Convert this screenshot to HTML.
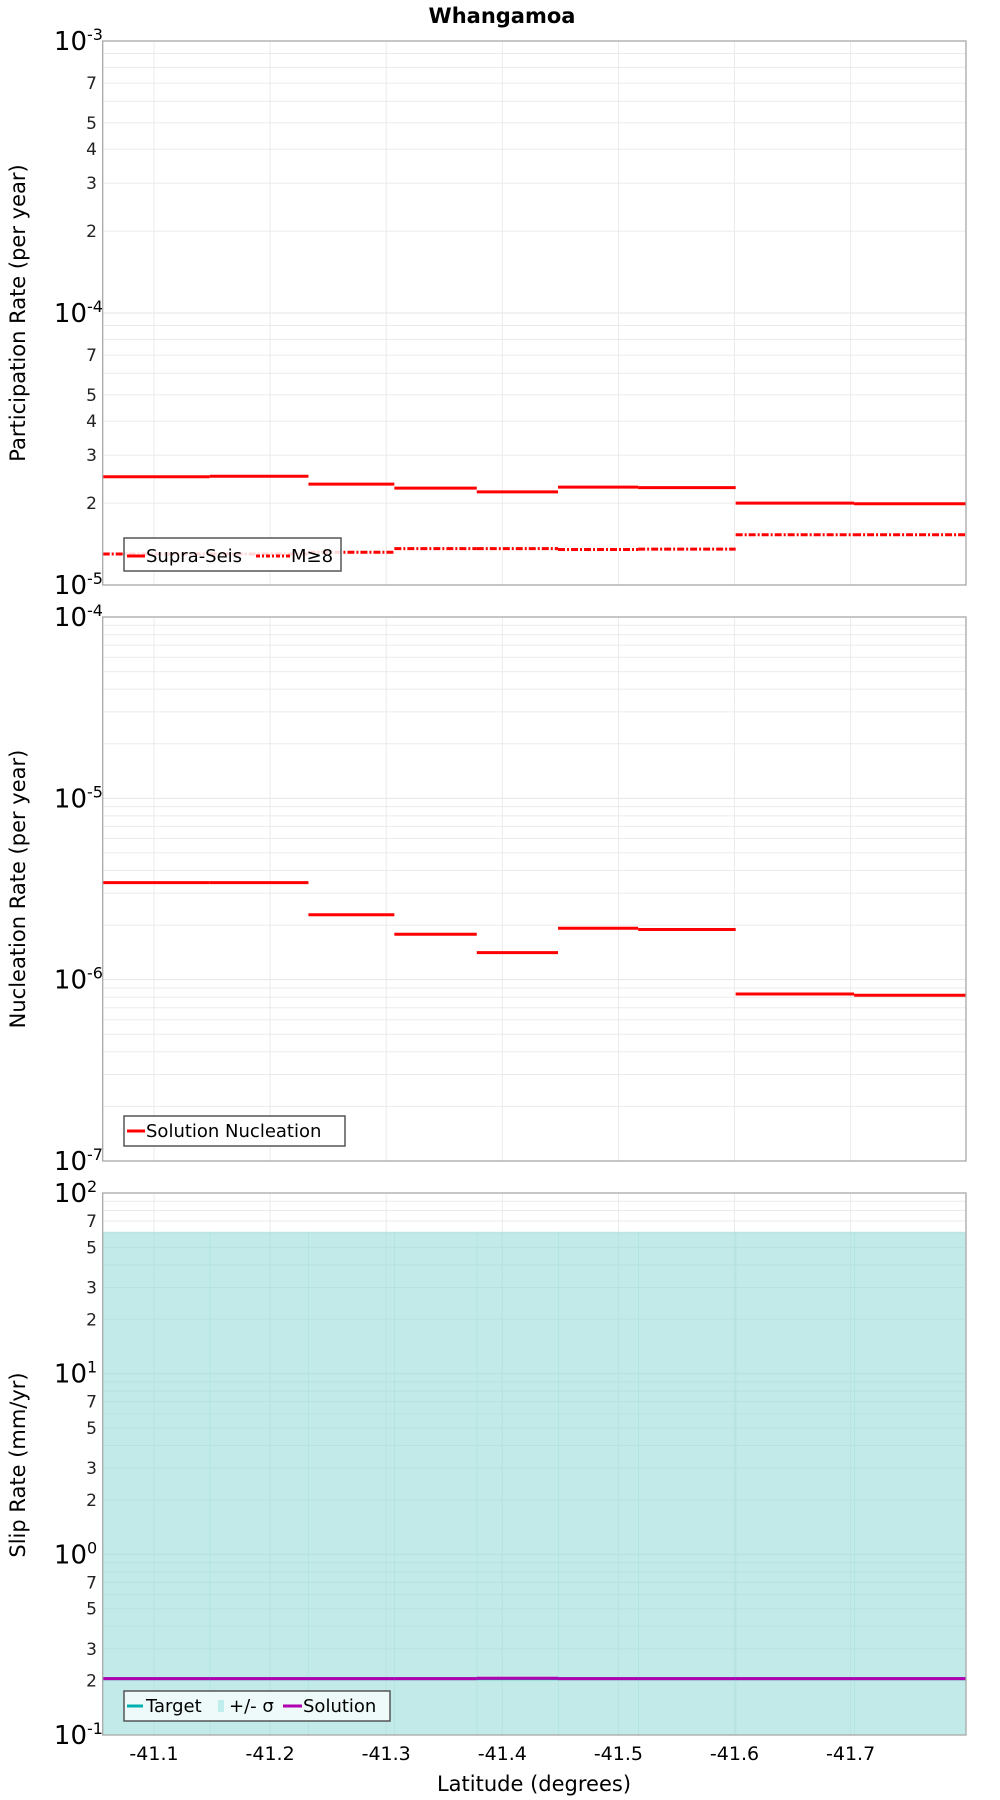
<!DOCTYPE html>
<html><head><meta charset="utf-8"><style>
body{margin:0;background:#fff}
svg{display:block;font-family:"DejaVu Sans","Liberation Sans",sans-serif}
</style></head><body>
<svg id="c" width="1000" height="1800" viewBox="0 0 1000 1800" xmlns="http://www.w3.org/2000/svg">
<text x="502" y="23" text-anchor="middle" font-size="21" font-weight="bold">Whangamoa</text>
<g id="g"></g>
</svg>
<script>
const bounds=[-41.0558,-41.148,-41.233,-41.307,-41.378,-41.448,-41.517,-41.601,-41.703,-41.7994];
const xTicks=[-41.1,-41.2,-41.3,-41.4,-41.5,-41.6,-41.7];
const supraSeis=[2.5e-5,2.51e-5,2.35e-5,2.27e-5,2.2e-5,2.29e-5,2.28e-5,2.0e-5,1.99e-5];
const m8=[1.30e-5,1.30e-5,1.32e-5,1.36e-5,1.36e-5,1.35e-5,1.355e-5,1.53e-5,1.53e-5];
const nucleation=[3.43e-6,3.43e-6,2.28e-6,1.78e-6,1.41e-6,1.92e-6,1.89e-6,8.34e-7,8.2e-7];
const slipSolution=[0.205,0.205,0.205,0.205,0.206,0.205,0.205,0.205,0.205];
const slipTarget=[0.205,0.205,0.205,0.205,0.205,0.205,0.205,0.205,0.205];
const slipUpper=[61,61,61,61,61,61,61,61,61];
const slipLower=[0.05,0.05,0.05,0.05,0.05,0.05,0.05,0.05,0.05];

const NS='http://www.w3.org/2000/svg';
const G=document.getElementById('g');
const L=102.7,R=966;
function X(lat){return L+(bounds[0]-lat)/(bounds[0]-bounds[bounds.length-1])*(R-L);}
function mk(tag,attrs,parent){const e=document.createElementNS(NS,tag);for(const k in attrs)e.setAttribute(k,attrs[k]);(parent||G).appendChild(e);return e;}
function panel(top,bot,dmin,dmax,minorLabels,name){
  const Y=v=>bot-(Math.log10(v)-dmin)/(dmax-dmin)*(bot-top);
  const g=mk('g',{});
  
  
  for(let d=dmin;d<dmax;d++){for(let m=2;m<=9;m++){const y=Y(m*Math.pow(10,d));
    const ln=mk('line',{x1:L,x2:R,y1:y,y2:y,stroke:'#ebebeb','stroke-width':1},g);
    
    
    if(minorLabels.includes(m)){const t=mk('text',{x:97,y:y+6,'text-anchor':'end','font-size':17,fill:'#222'},g);t.textContent=m;
      
      }
  }}
  for(let d=dmin;d<=dmax;d++){const y=Y(Math.pow(10,d));
    const ln=mk('line',{x1:L,x2:R,y1:y,y2:y,stroke:'#e6e6e6'},g);
    
    
    const t=mk('text',{x:87,y:y+9,'text-anchor':'end','font-size':26},g);t.textContent='10';
    
    
    const s=mk('text',{x:87,y:y-1,'font-size':16},g);s.textContent=d;
    
    }
  xTicks.forEach(v=>{const ln=mk('line',{x1:X(v),x2:X(v),y1:top,y2:bot,stroke:'#ebebeb'},g);
    
    });
  return {Y,g,top,bot};
}
function border(p){const r=mk('rect',{x:L,y:p.top,width:R-L,height:p.bot-p.top,fill:'none',stroke:'#a8a8a8','stroke-width':1.3},p.g);
  
  }
function steps(p,vals,color,w,dash,name){
  vals.forEach((v,i)=>{const a={x1:X(bounds[i]),x2:X(bounds[i+1]),y1:p.Y(v),y2:p.Y(v),stroke:color,'stroke-width':w};
    if(dash)a['stroke-dasharray']=dash;
    const ln=mk('line',a,p.g);
    
    });
}
function ytitle(txt,cy,name){const t=mk('text',{x:0,y:0,'font-size':21,'text-anchor':'middle',transform:`translate(25,${cy}) rotate(-90)`});t.textContent=txt;
  
  }

// Panel 1
const p1=panel(41,585,-5,-3,[2,3,4,5,7],'participation');
steps(p1,m8,'#f00',3,'7,2,2,2','m8');
steps(p1,supraSeis,'#f00',3,null,'supra-seis');
border(p1);
ytitle('Participation Rate (per year)',313,'participation-y-title');
{const lg=mk('g',{});
 mk('rect',{x:124,y:538,width:217,height:33,fill:'#fff','fill-opacity':0.85,stroke:'#555','stroke-width':1.5},lg);
 mk('line',{x1:127,x2:145,y1:556,y2:556,stroke:'#f00','stroke-width':3},lg);
 let t=mk('text',{x:146,y:562,'font-size':18},lg);t.textContent='Supra-Seis';
 mk('line',{x1:256,x2:290,y1:556,y2:556,stroke:'#f00','stroke-width':3,'stroke-dasharray':'4,2,2,2'},lg);
 t=mk('text',{x:291,y:562,'font-size':18},lg);t.textContent='M≥8';}

// Panel 2
const p2=panel(617,1161,-7,-4,[],'nucleation');
steps(p2,nucleation,'#f00',3,null,'nucleation');
border(p2);
ytitle('Nucleation Rate (per year)',889,'nucleation-y-title');
{const lg=mk('g',{});
 mk('rect',{x:124,y:1116,width:221,height:30,fill:'#fff',stroke:'#555','stroke-width':1.5},lg);
 mk('line',{x1:127,x2:145,y1:1131,y2:1131,stroke:'#f00','stroke-width':3},lg);
 const t=mk('text',{x:146,y:1137,'font-size':18},lg);t.textContent='Solution Nucleation';}

// Panel 3
const p3=panel(1193,1735,-1,2,[2,3,5,7],'slip');
slipUpper.forEach((v,i)=>{const y1=p3.Y(v),y2=Math.min(p3.bot,p3.Y(slipLower[i]));
  const r=mk('rect',{x:X(bounds[i]),y:y1,width:X(bounds[i+1])-X(bounds[i])+0.5,height:y2-y1,fill:'#8fd9d6','fill-opacity':0.55},p3.g);
  
  });
// redraw gridlines over band lightly
steps(p3,slipTarget,'#00b0b0',3,null,'target');
steps(p3,slipSolution,'#b000b0',3,null,'solution');
border(p3);
ytitle('Slip Rate (mm/yr)',1465,'slip-y-title');
{const lg=mk('g',{});
 mk('rect',{x:124,y:1691,width:266,height:30,fill:'#eefaf9',stroke:'#555','stroke-width':1.5},lg);
 mk('line',{x1:127,x2:143,y1:1706,y2:1706,stroke:'#00b0b0','stroke-width':3},lg);
 let t=mk('text',{x:146,y:1712,'font-size':18},lg);t.textContent='Target';
 mk('rect',{x:218,y:1700,width:6,height:12,fill:'#bfeeed'},lg);
 t=mk('text',{x:229,y:1712,'font-size':18},lg);t.textContent='+/- σ';
 mk('line',{x1:283,x2:302,y1:1706,y2:1706,stroke:'#b000b0','stroke-width':3},lg);
 t=mk('text',{x:303,y:1712,'font-size':18},lg);t.textContent='Solution';}

// X axis
xTicks.forEach(v=>{const t=mk('text',{x:X(v),y:1760,'text-anchor':'middle','font-size':19});t.textContent=v.toFixed(1);
  
  });
{const t=mk('text',{x:534,y:1791,'text-anchor':'middle','font-size':21});t.textContent='Latitude (degrees)';
 
 }
</script>
</body></html>
